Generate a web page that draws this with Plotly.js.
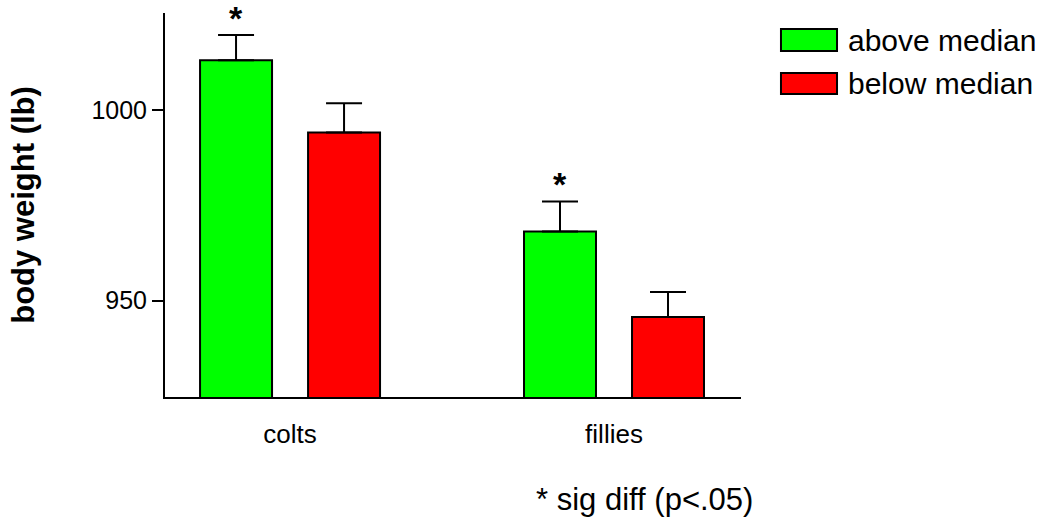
<!DOCTYPE html>
<html>
<head>
<meta charset="utf-8">
<script src="https://cdn.plot.ly/plotly-3.0.1.min.js"></script>
<style>html,body{margin:0;padding:0;background:#fff;}#chart{width:1046px;height:525px;}</style>
</head>
<body>
<div id="chart"></div>
<script>
var categories = ['colts', 'fillies'];
var seriesNames = ['above median', 'below median'];
var aboveValues = [1013.2, 968.2];
var aboveErrors = [6.6, 7.9];
var belowValues = [994.2, 945.7];
var belowErrors = [7.7, 6.6];
var aboveSig = [true, true];
var belowSig = [false, false];
var yTickVals = [950, 1000];
var footnote = '* sig diff (p<.05)';
var yTitle = 'body weight (lb)';

var FONT = 'Liberation Sans, Arial, sans-serif';
var barW = 0.2222;
var offs = [-0.2778, 0.0556];
var colors = ['#00ff00', '#ff0000'];

function mkTrace(name, vals, errs, off, color) {
  return {
    type: 'bar', name: name, x: categories, y: vals,
    width: barW, offset: off,
    marker: {color: color, line: {color: '#000', width: 2}},
    error_y: {type: 'data', symmetric: false, array: errs,
      arrayminus: errs.map(function(){return 0;}),
      color: '#000', thickness: 2, width: 18},
    showlegend: false
  };
}

var data = [
  mkTrace(seriesNames[0], aboveValues, aboveErrors, offs[0], colors[0]),
  mkTrace(seriesNames[1], belowValues, belowErrors, offs[1], colors[1])
];

var annotations = [];
var sigSets = [aboveSig, belowSig];
var valSets = [aboveValues, belowValues];
var errSets = [aboveErrors, belowErrors];
for (var s = 0; s < 2; s++) {
  for (var i = 0; i < categories.length; i++) {
    if (sigSets[s][i]) {
      annotations.push({
        x: i + offs[s] + barW / 2, y: valSets[s][i] + errSets[s][i],
        xref: 'x', yref: 'y', text: '<b>*</b>', showarrow: false,
        yanchor: 'bottom', yshift: -4,
        font: {family: FONT, size: 34, color: '#000'}
      });
    }
  }
}
annotations.push({
  xref: 'paper', yref: 'paper', x: 0.833, y: -0.268,
  xanchor: 'center', yanchor: 'middle', text: footnote, showarrow: false,
  font: {family: FONT, size: 31, color: '#000'}
});

// custom legend
var shapes = [];
var legY = [[0.9583, 0.901], [0.84375, 0.789]];
for (var k = 0; k < 2; k++) {
  shapes.push({type: 'rect', xref: 'paper', yref: 'paper',
    x0: 1.0694, x1: 1.1667, y0: legY[k][1], y1: legY[k][0],
    fillcolor: colors[k], line: {color: '#000', width: 2}});
  annotations.push({xref: 'paper', yref: 'paper', x: 1.1823,
    y: (legY[k][0] + legY[k][1]) / 2, xanchor: 'left', yanchor: 'middle',
    text: seriesNames[k], showarrow: false,
    font: {family: FONT, size: 30, color: '#000'}});
}

var layout = {
  width: 1046, height: 525,
  margin: {l: 165, r: 305, t: 13, b: 128},
  paper_bgcolor: '#fff', plot_bgcolor: '#fff',
  barmode: 'overlay',
  showlegend: false,
  xaxis: {
    type: 'category', range: [-0.386, 1.392],
    showline: true, linecolor: '#000', linewidth: 2,
    ticks: '', showgrid: false, zeroline: false,
    ticklabelstandoff: 13,
    tickfont: {family: FONT, size: 26, color: '#000'}
  },
  yaxis: {
    range: [924.7, 1025.6],
    tickvals: yTickVals, ticks: 'outside', ticklen: 11, tickwidth: 2, tickcolor: '#000',
    showline: true, linecolor: '#000', linewidth: 2,
    showgrid: false, zeroline: false,
    tickfont: {family: FONT, size: 25, color: '#000'},
    title: {text: '<b>' + yTitle + '</b>', standoff: 48,
      font: {family: FONT, size: 31, color: '#000'}}
  },
  shapes: shapes,
  annotations: annotations
};

Plotly.newPlot('chart', data, layout, {staticPlot: true, displayModeBar: false});
</script>
</body>
</html>
